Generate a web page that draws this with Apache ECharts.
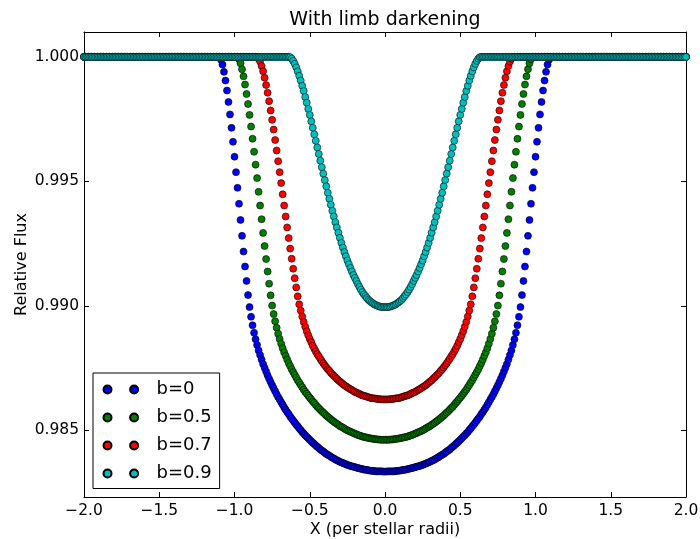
<!DOCTYPE html>
<html>
<head>
<meta charset="utf-8">
<title>With limb darkening</title>
<script src="https://cdn.jsdelivr.net/npm/echarts@6/dist/echarts.min.js"></script>
<style>
html, body { margin: 0; padding: 0; background: #ffffff; }
#chart { width: 700px; height: 539px; }
</style>
</head>
<body>
<div id="chart"></div>
<script>
// Planet position along the transit chord, in stellar radii
const xPos = [
-2,-1.99,-1.98,-1.97,-1.96,-1.95,-1.94,-1.93,-1.92,-1.91,
-1.9,-1.89,-1.88,-1.87,-1.86,-1.85,-1.84,-1.83,-1.82,-1.81,
-1.8,-1.79,-1.78,-1.77,-1.76,-1.75,-1.74,-1.73,-1.72,-1.71,
-1.7,-1.69,-1.68,-1.67,-1.66,-1.65,-1.64,-1.63,-1.62,-1.61,
-1.6,-1.59,-1.58,-1.57,-1.56,-1.55,-1.54,-1.53,-1.52,-1.51,
-1.5,-1.49,-1.48,-1.47,-1.46,-1.45,-1.44,-1.43,-1.42,-1.41,
-1.4,-1.39,-1.38,-1.37,-1.36,-1.35,-1.34,-1.33,-1.32,-1.31,
-1.3,-1.29,-1.28,-1.27,-1.26,-1.25,-1.24,-1.23,-1.22,-1.21,
-1.2,-1.19,-1.18,-1.17,-1.16,-1.15,-1.14,-1.13,-1.12,-1.11,
-1.1,-1.09,-1.08,-1.07,-1.06,-1.05,-1.04,-1.03,-1.02,-1.01,
-1,-0.99,-0.98,-0.97,-0.96,-0.95,-0.94,-0.93,-0.92,-0.91,
-0.9,-0.89,-0.88,-0.87,-0.86,-0.85,-0.84,-0.83,-0.82,-0.81,
-0.8,-0.79,-0.78,-0.77,-0.76,-0.75,-0.74,-0.73,-0.72,-0.71,
-0.7,-0.69,-0.68,-0.67,-0.66,-0.65,-0.64,-0.63,-0.62,-0.61,
-0.6,-0.59,-0.58,-0.57,-0.56,-0.55,-0.54,-0.53,-0.52,-0.51,
-0.5,-0.49,-0.48,-0.47,-0.46,-0.45,-0.44,-0.43,-0.42,-0.41,
-0.4,-0.39,-0.38,-0.37,-0.36,-0.35,-0.34,-0.33,-0.32,-0.31,
-0.3,-0.29,-0.28,-0.27,-0.26,-0.25,-0.24,-0.23,-0.22,-0.21,
-0.2,-0.19,-0.18,-0.17,-0.16,-0.15,-0.14,-0.13,-0.12,-0.11,
-0.1,-0.09,-0.08,-0.07,-0.06,-0.05,-0.04,-0.03,-0.02,-0.01,
0,0.01,0.02,0.03,0.04,0.05,0.06,0.07,0.08,0.09,
0.1,0.11,0.12,0.13,0.14,0.15,0.16,0.17,0.18,0.19,
0.2,0.21,0.22,0.23,0.24,0.25,0.26,0.27,0.28,0.29,
0.3,0.31,0.32,0.33,0.34,0.35,0.36,0.37,0.38,0.39,
0.4,0.41,0.42,0.43,0.44,0.45,0.46,0.47,0.48,0.49,
0.5,0.51,0.52,0.53,0.54,0.55,0.56,0.57,0.58,0.59,
0.6,0.61,0.62,0.63,0.64,0.65,0.66,0.67,0.68,0.69,
0.7,0.71,0.72,0.73,0.74,0.75,0.76,0.77,0.78,0.79,
0.8,0.81,0.82,0.83,0.84,0.85,0.86,0.87,0.88,0.89,
0.9,0.91,0.92,0.93,0.94,0.95,0.96,0.97,0.98,0.99,
1,1.01,1.02,1.03,1.04,1.05,1.06,1.07,1.08,1.09,
1.1,1.11,1.12,1.13,1.14,1.15,1.16,1.17,1.18,1.19,
1.2,1.21,1.22,1.23,1.24,1.25,1.26,1.27,1.28,1.29,
1.3,1.31,1.32,1.33,1.34,1.35,1.36,1.37,1.38,1.39,
1.4,1.41,1.42,1.43,1.44,1.45,1.46,1.47,1.48,1.49,
1.5,1.51,1.52,1.53,1.54,1.55,1.56,1.57,1.58,1.59,
1.6,1.61,1.62,1.63,1.64,1.65,1.66,1.67,1.68,1.69,
1.7,1.71,1.72,1.73,1.74,1.75,1.76,1.77,1.78,1.79,
1.8,1.81,1.82,1.83,1.84,1.85,1.86,1.87,1.88,1.89,
1.9,1.91,1.92,1.93,1.94,1.95,1.96,1.97,1.98,1.99,
2
];

// Flux drop below 1.0 at each position, in units of 1e-5 (relative flux = 1 - dip * 1e-5)
const dipB0 = [
0,0,0,0,0,0,0,0,0,0,
0,0,0,0,0,0,0,0,0,0,
0,0,0,0,0,0,0,0,0,0,
0,0,0,0,0,0,0,0,0,0,
0,0,0,0,0,0,0,0,0,0,
0,0,0,0,0,0,0,0,0,0,
0,0,0,0,0,0,0,0,0,0,
0,0,0,0,0,0,0,0,0,0,
0,0,0,0,0,0,0,0,0,0,
0,11,31,60,95,135,181,231,285,341,
401,463,526,590,655,719,782,842,900,957,
1005,1044,1078,1108,1134,1157,1179,1198,1216,1234,
1249,1264,1279,1293,1306,1319,1331,1343,1355,1366,
1376,1387,1397,1408,1417,1427,1435,1445,1453,1461,
1469,1477,1484,1492,1499,1507,1513,1520,1526,1532,
1538,1544,1550,1555,1561,1566,1571,1577,1581,1585,
1590,1595,1598,1602,1606,1610,1613,1617,1620,1623,
1626,1629,1631,1634,1636,1639,1641,1643,1645,1646,
1648,1650,1652,1653,1655,1656,1658,1659,1659,1661,
1662,1663,1663,1664,1665,1665,1665,1665,1665,1666,
1666,1666,1665,1665,1665,1665,1665,1664,1663,1663,
1662,1661,1659,1659,1658,1656,1655,1653,1652,1650,
1648,1646,1645,1643,1641,1639,1636,1634,1631,1629,
1626,1623,1620,1617,1613,1610,1606,1602,1598,1595,
1590,1585,1581,1577,1571,1566,1561,1555,1550,1544,
1538,1532,1526,1520,1513,1507,1499,1492,1484,1477,
1469,1461,1453,1445,1435,1427,1417,1408,1397,1387,
1376,1366,1355,1343,1331,1319,1306,1293,1279,1264,
1249,1234,1216,1198,1179,1157,1134,1108,1078,1044,
1005,957,900,842,782,719,655,590,526,463,
401,341,285,231,181,135,95,60,31,11,
0,0,0,0,0,0,0,0,0,0,
0,0,0,0,0,0,0,0,0,0,
0,0,0,0,0,0,0,0,0,0,
0,0,0,0,0,0,0,0,0,0,
0,0,0,0,0,0,0,0,0,0,
0,0,0,0,0,0,0,0,0,0,
0,0,0,0,0,0,0,0,0,0,
0,0,0,0,0,0,0,0,0,0,
0,0,0,0,0,0,0,0,0,0,
0
];

const dipB05 = [
0,0,0,0,0,0,0,0,0,0,
0,0,0,0,0,0,0,0,0,0,
0,0,0,0,0,0,0,0,0,0,
0,0,0,0,0,0,0,0,0,0,
0,0,0,0,0,0,0,0,0,0,
0,0,0,0,0,0,0,0,0,0,
0,0,0,0,0,0,0,0,0,0,
0,0,0,0,0,0,0,0,0,0,
0,0,0,0,0,0,0,0,0,0,
0,0,0,0,0,0,0,0,0,0,
0,0,0,9,26,50,78,111,149,189,
233,280,329,381,433,487,542,597,652,707,
760,812,862,911,958,999,1033,1062,1088,1112,
1133,1152,1170,1187,1201,1216,1230,1242,1255,1266,
1277,1288,1299,1308,1318,1327,1337,1345,1353,1361,
1369,1376,1384,1390,1398,1405,1411,1417,1424,1429,
1435,1441,1446,1451,1456,1461,1465,1470,1474,1478,
1483,1486,1489,1493,1497,1500,1503,1506,1508,1511,
1514,1516,1519,1521,1523,1525,1527,1528,1529,1531,
1532,1533,1534,1535,1536,1537,1537,1538,1538,1538,
1538,1538,1538,1538,1537,1537,1536,1535,1534,1533,
1532,1531,1529,1528,1527,1525,1523,1521,1519,1516,
1514,1511,1508,1506,1503,1500,1497,1493,1489,1486,
1483,1478,1474,1470,1465,1461,1456,1451,1446,1441,
1435,1429,1424,1417,1411,1405,1398,1390,1384,1376,
1369,1361,1353,1345,1337,1327,1318,1308,1299,1288,
1277,1266,1255,1242,1230,1216,1201,1187,1170,1152,
1133,1112,1088,1062,1033,999,958,911,862,812,
760,707,652,597,542,487,433,381,329,280,
233,189,149,111,78,50,26,9,0,0,
0,0,0,0,0,0,0,0,0,0,
0,0,0,0,0,0,0,0,0,0,
0,0,0,0,0,0,0,0,0,0,
0,0,0,0,0,0,0,0,0,0,
0,0,0,0,0,0,0,0,0,0,
0,0,0,0,0,0,0,0,0,0,
0,0,0,0,0,0,0,0,0,0,
0,0,0,0,0,0,0,0,0,0,
0,0,0,0,0,0,0,0,0,0,
0,0,0,0,0,0,0,0,0,0,
0
];

const dipB07 = [
0,0,0,0,0,0,0,0,0,0,
0,0,0,0,0,0,0,0,0,0,
0,0,0,0,0,0,0,0,0,0,
0,0,0,0,0,0,0,0,0,0,
0,0,0,0,0,0,0,0,0,0,
0,0,0,0,0,0,0,0,0,0,
0,0,0,0,0,0,0,0,0,0,
0,0,0,0,0,0,0,0,0,0,
0,0,0,0,0,0,0,0,0,0,
0,0,0,0,0,0,0,0,0,0,
0,0,0,0,0,0,0,0,0,0,
0,0,0,0,0,0,7,19,37,58,
84,113,144,178,215,253,292,334,376,419,
463,507,552,597,641,685,728,770,811,851,
889,926,962,994,1019,1043,1065,1084,1102,1118,
1133,1146,1160,1172,1183,1194,1203,1213,1222,1231,
1239,1247,1255,1261,1269,1275,1281,1287,1293,1299,
1304,1309,1314,1319,1323,1327,1331,1335,1338,1342,
1346,1348,1351,1354,1357,1360,1361,1363,1365,1367,
1369,1371,1371,1372,1373,1374,1375,1375,1376,1376,
1376,1376,1376,1375,1375,1374,1373,1372,1371,1371,
1369,1367,1365,1363,1361,1360,1357,1354,1351,1348,
1346,1342,1338,1335,1331,1327,1323,1319,1314,1309,
1304,1299,1293,1287,1281,1275,1269,1261,1255,1247,
1239,1231,1222,1213,1203,1194,1183,1172,1160,1146,
1133,1118,1102,1084,1065,1043,1019,994,962,926,
889,851,811,770,728,685,641,597,552,507,
463,419,376,334,292,253,215,178,144,113,
84,58,37,19,7,0,0,0,0,0,
0,0,0,0,0,0,0,0,0,0,
0,0,0,0,0,0,0,0,0,0,
0,0,0,0,0,0,0,0,0,0,
0,0,0,0,0,0,0,0,0,0,
0,0,0,0,0,0,0,0,0,0,
0,0,0,0,0,0,0,0,0,0,
0,0,0,0,0,0,0,0,0,0,
0,0,0,0,0,0,0,0,0,0,
0,0,0,0,0,0,0,0,0,0,
0,0,0,0,0,0,0,0,0,0,
0,0,0,0,0,0,0,0,0,0,
0
];

const dipB09 = [
0,0,0,0,0,0,0,0,0,0,
0,0,0,0,0,0,0,0,0,0,
0,0,0,0,0,0,0,0,0,0,
0,0,0,0,0,0,0,0,0,0,
0,0,0,0,0,0,0,0,0,0,
0,0,0,0,0,0,0,0,0,0,
0,0,0,0,0,0,0,0,0,0,
0,0,0,0,0,0,0,0,0,0,
0,0,0,0,0,0,0,0,0,0,
0,0,0,0,0,0,0,0,0,0,
0,0,0,0,0,0,0,0,0,0,
0,0,0,0,0,0,0,0,0,0,
0,0,0,0,0,0,0,0,0,0,
0,0,0,0,0,0,0,1,7,16,
28,42,58,76,95,116,137,161,184,209,
233,259,285,311,337,364,390,417,443,469,
495,520,546,570,594,618,641,664,685,706,
727,747,766,784,801,818,833,848,862,876,
888,900,913,924,935,945,954,961,969,976,
981,986,990,995,997,1000,1002,1004,1005,1005,
1005,1005,1005,1004,1002,1000,997,995,990,986,
981,976,969,961,954,945,935,924,913,900,
888,876,862,848,833,818,801,784,766,747,
727,706,685,664,641,618,594,570,546,520,
495,469,443,417,390,364,337,311,285,259,
233,209,184,161,137,116,95,76,58,42,
28,16,7,1,0,0,0,0,0,0,
0,0,0,0,0,0,0,0,0,0,
0,0,0,0,0,0,0,0,0,0,
0,0,0,0,0,0,0,0,0,0,
0,0,0,0,0,0,0,0,0,0,
0,0,0,0,0,0,0,0,0,0,
0,0,0,0,0,0,0,0,0,0,
0,0,0,0,0,0,0,0,0,0,
0,0,0,0,0,0,0,0,0,0,
0,0,0,0,0,0,0,0,0,0,
0,0,0,0,0,0,0,0,0,0,
0,0,0,0,0,0,0,0,0,0,
0,0,0,0,0,0,0,0,0,0,
0,0,0,0,0,0,0,0,0,0,
0
];

const seriesNames = ['b=0', 'b=0.5', 'b=0.7', 'b=0.9'];
const seriesDips = [dipB0, dipB05, dipB07, dipB09];
const seriesColors = ['#0000ff', '#008000', '#ff0000', '#00bfbf'];
const yTickValues = [0.985, 0.990, 0.995, 1.000];

const FONT = 'DejaVu Sans';

function toPoints(dip) {
  return xPos.map((x, i) => [x, 1 - dip[i] * 1e-5]);
}

function fmtX(v) {
  const s = Math.abs(v).toFixed(1);
  return v < 0 ? '\u2212' + s : s;
}

// two dots side by side, plus a zero-length segment that widens the icon box
const legendIcon = 'path://M0,4A4,4,0,1,1,8,4A4,4,0,1,1,0,4Z M26.6,4A4,4,0,1,1,34.6,4A4,4,0,1,1,26.6,4Z M48,4L48,4';

const axisLineStyle = { show: true, onZero: false, lineStyle: { color: '#000', width: 1 } };
const tickStyle = { show: true, inside: true, length: 5, lineStyle: { color: '#000', width: 1 } };

const chart = echarts.init(document.getElementById('chart'), null, { renderer: 'canvas' });

chart.setOption({
  animation: false,
  backgroundColor: '#ffffff',
  textStyle: { fontFamily: FONT },
  graphic: [{
    type: 'text',
    x: 385,
    y: 20.5,
    style: {
      text: 'With limb darkening',
      font: '19px "DejaVu Sans"',
      fill: '#000',
      textAlign: 'center',
      textVerticalAlign: 'middle'
    }
  }],
  grid: {
    left: 84, top: 32, width: 602, height: 465,
    containLabel: false,
    outerBoundsMode: 'none',
    show: false
  },
  legend: {
    orient: 'vertical',
    left: 93,
    top: 373,
    padding: [7.5, 8, 6, 9.5],
    itemGap: 10,
    itemWidth: 48,
    itemHeight: 8,
    icon: legendIcon,
    backgroundColor: '#ffffff',
    borderColor: '#000',
    borderWidth: 1,
    borderRadius: 0,
    textStyle: { fontFamily: FONT, fontSize: 18, color: '#000' },
    data: seriesNames
  },
  xAxis: [{
    type: 'value',
    min: -2, max: 2, interval: 0.5,
    name: 'X (per stellar radii)',
    nameLocation: 'middle',
    nameGap: 25,
    nameMoveOverlap: false,
    nameTextStyle: { fontFamily: FONT, fontSize: 16, color: '#000' },
    axisLine: axisLineStyle,
    axisTick: tickStyle,
    splitLine: { show: false },
    axisLabel: { color: '#000', fontFamily: FONT, fontSize: 15.5, margin: 6, formatter: fmtX }
  }, {
    type: 'value',
    position: 'top',
    min: -2, max: 2, interval: 0.5,
    axisLine: axisLineStyle,
    axisTick: tickStyle,
    splitLine: { show: false },
    axisLabel: { show: false }
  }],
  yAxis: [{
    type: 'value',
    position: 'left',
    min: 0.98232, max: 1.001,
    name: 'Relative Flux',
    nameLocation: 'middle',
    nameRotate: 90,
    nameGap: 54,
    nameMoveOverlap: false,
    nameTextStyle: { fontFamily: FONT, fontSize: 16, color: '#000' },
    axisLine: axisLineStyle,
    axisTick: Object.assign({ customValues: yTickValues }, tickStyle),
    splitLine: { show: false },
    axisLabel: {
      color: '#000', fontFamily: FONT, fontSize: 15.5, margin: 5,
      customValues: yTickValues,
      formatter: v => v.toFixed(3)
    }
  }, {
    type: 'value',
    position: 'right',
    min: 0.98232, max: 1.001,
    axisLine: axisLineStyle,
    axisTick: Object.assign({ customValues: yTickValues }, tickStyle),
    splitLine: { show: false },
    axisLabel: { show: false }
  }],
  series: seriesNames.map((name, i) => ({
    name: name,
    type: 'scatter',
    xAxisIndex: 0,
    yAxisIndex: 0,
    symbol: 'circle',
    symbolSize: 7,
    itemStyle: { color: seriesColors[i], borderColor: '#000', borderWidth: 0.6, opacity: 1 },
    emphasis: { disabled: true },
    data: toPoints(seriesDips[i])
  }))
});
</script>
</body>
</html>
